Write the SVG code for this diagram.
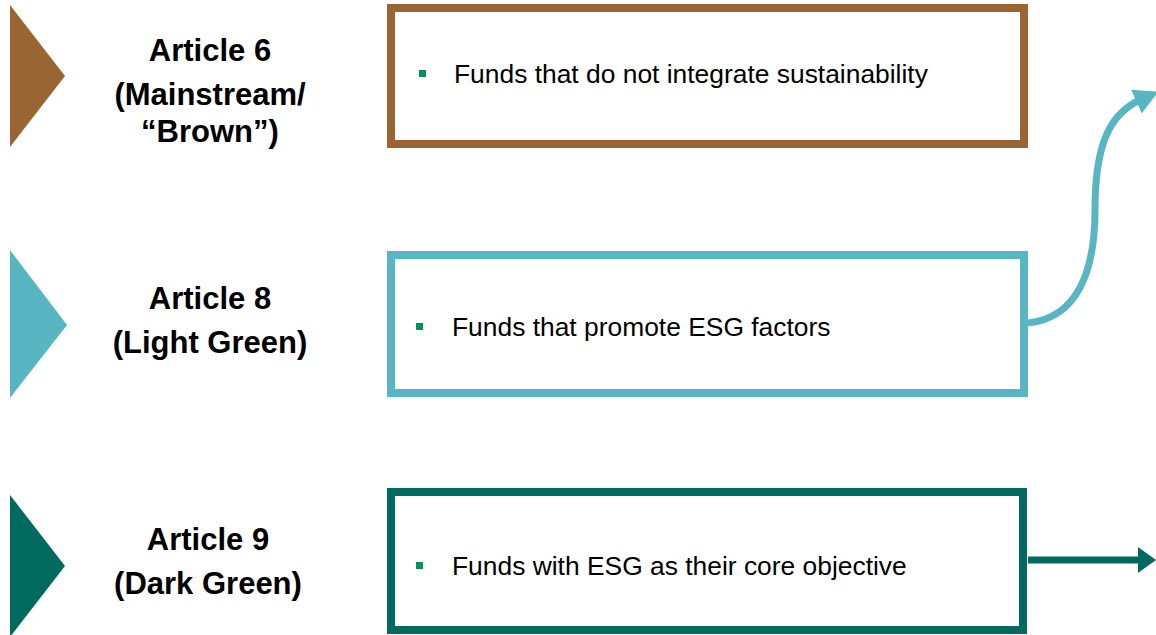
<svg xmlns="http://www.w3.org/2000/svg" width="1156" height="635" viewBox="0 0 1156 635">
<defs>
<style>
.lbl{font-family:"Liberation Sans",Arial,sans-serif;font-weight:bold;font-size:31px;fill:#000;text-anchor:middle}
.txt{font-family:"Liberation Sans",Arial,sans-serif;font-size:26.4px;fill:#000}
.box{fill:#fff;stroke-width:8}
.bul{fill:#00925A}
</style>
<marker id="ahTeal" markerUnits="userSpaceOnUse" markerWidth="24" markerHeight="26" viewBox="0 0 24 26" refX="4" refY="13" orient="auto">
<path d="M0,0 L24,13 L0,26 Z" fill="#58B5C2"/>
</marker>
<marker id="ahGreen" markerUnits="userSpaceOnUse" markerWidth="18" markerHeight="26" viewBox="0 0 18 26" refX="2" refY="13" orient="auto">
<path d="M0,0 L18,13 L0,26 Z" fill="#006A5E"/>
</marker>
</defs>
<g id="connectors">
<path d="M1028,323 C1078,318 1095,270 1095,210 C1095,150 1107,115 1140,100" fill="none" stroke="#58B5C2" stroke-width="7" marker-end="url(#ahTeal)"/>
<line x1="1028" y1="560" x2="1140" y2="560" stroke="#006A5E" stroke-width="7" marker-end="url(#ahGreen)"/>
</g>
<g id="article6">
<polygon points="10,5 65,76 10,147" fill="#996633"/>
<text class="lbl" x="210" y="61">Article 6</text>
<text class="lbl" x="210" y="105">(Mainstream/</text>
<text class="lbl" x="210" y="142">“Brown”)</text>
</g>
<g id="box6">
<rect class="box" x="391" y="8" width="633" height="136" stroke="#996633"/>
<rect class="bul" x="419" y="70" width="7" height="7"/>
<text class="txt" x="454" y="83">Funds that do not integrate sustainability</text>
</g>
<g id="article8">
<polygon points="10,250 67,325 10,398" fill="#58B5C2"/>
<text class="lbl" x="210" y="309">Article 8</text>
<text class="lbl" x="210" y="353">(Light Green)</text>
</g>
<g id="box8">
<rect class="box" x="391" y="255" width="633" height="138" stroke="#58B5C2"/>
<rect class="bul" x="416" y="323" width="7" height="7"/>
<text class="txt" x="452" y="336">Funds that promote ESG factors</text>
</g>
<g id="article9">
<polygon points="10,495 65,566 10,637" fill="#006A5E"/>
<text class="lbl" x="208" y="550">Article 9</text>
<text class="lbl" x="208" y="594">(Dark Green)</text>
</g>
<g id="box9">
<rect class="box" x="391" y="492" width="632" height="138" stroke="#006A5E"/>
<rect class="bul" x="416" y="562" width="7" height="7"/>
<text class="txt" x="452" y="575">Funds with ESG as their core objective</text>
</g>
</svg>
